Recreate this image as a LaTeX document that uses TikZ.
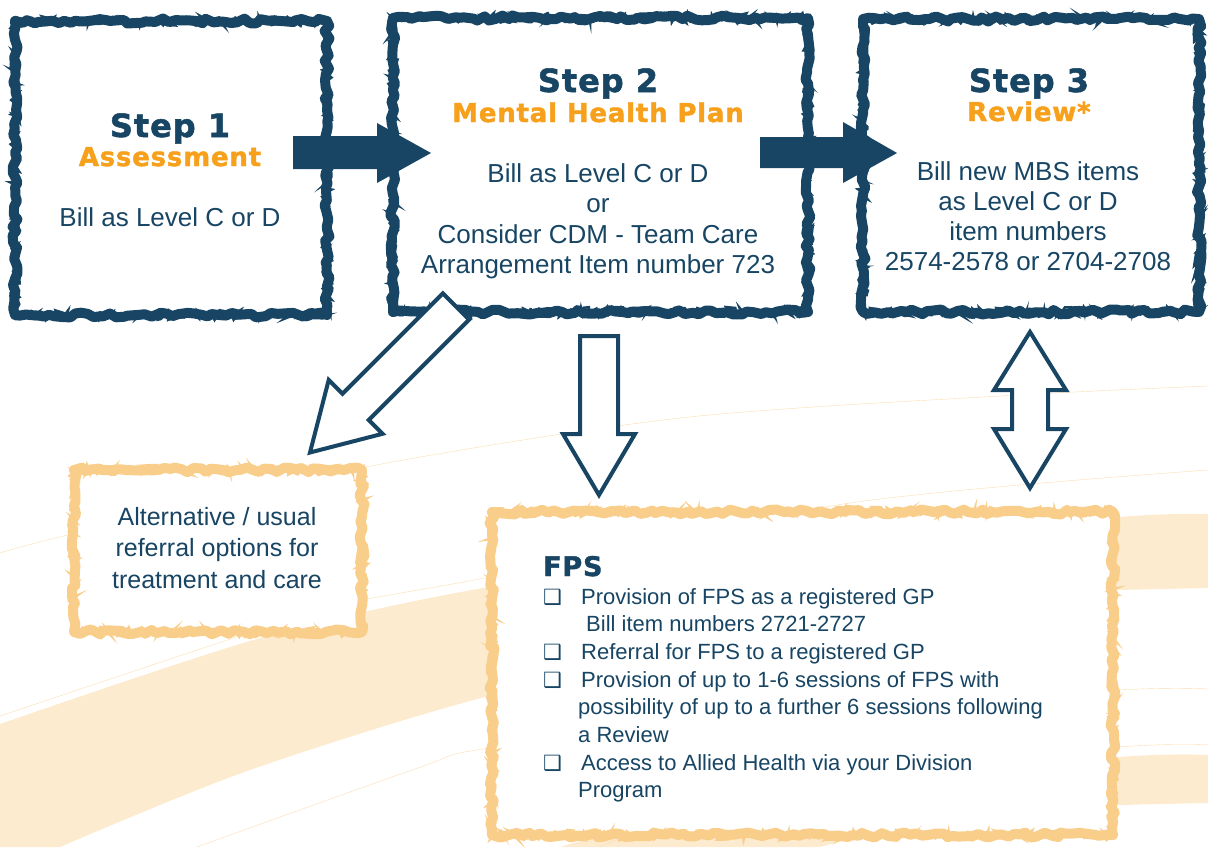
\documentclass[tikz,border=0pt]{standalone}
\usepackage{fontspec}
\setmainfont{Liberation Sans}
\newfontfamily\headfont[LetterSpace=3,BoldFeatures={FakeBold=1.6}]{DejaVu Sans}
\newfontfamily\symfont{DejaVu Sans}
\usetikzlibrary{decorations.pathmorphing}
\definecolor{navy}{HTML}{174563}
\definecolor{gold}{HTML}{F7A01B}
\definecolor{sand}{HTML}{F9CE8B}
\definecolor{peach}{HTML}{FDEBD0}
\definecolor{streak}{HTML}{FBDDB0}
\newcommand{\boxbullet}{\makebox[38pt][l]{\symfont\fontsize{21}{21}\selectfont ❑}}
\tikzset{
  frame/.style={line width=10pt, decorate, decoration={random steps, segment length=6pt, amplitude=2.5pt}, line join=round},
  frayed/.style={line width=2.5pt, decorate, decoration={random steps, segment length=3pt, amplitude=5pt}},
  blockarrow/.style={draw=navy, line width=4pt, fill=white, line join=miter},
  steptitle/.style={navy, font=\headfont\bfseries\fontsize{32}{36}\selectfont, anchor=base},
  stepsub/.style={gold, font=\headfont\bfseries\fontsize{26}{30}\selectfont, anchor=base},
  body/.style={navy, font=\fontsize{26}{30.5}\selectfont, anchor=base},
  listline/.style={navy, font=\fontsize{22}{27.7}\selectfont, anchor=base west, inner sep=0pt},
}
\begin{document}
\begin{tikzpicture}[x=1pt,y=-1pt]
\pgfmathsetseed{7}
\useasboundingbox (0,0) rectangle (1208,847);
\clip (0,0) rectangle (1208,847);
\fill[peach] plot[smooth] coordinates {(0,724) (267,636) (500,585) (800,545) (1118,517) (1208,514)} -- (1208,588) -- plot[smooth] coordinates {(1118,590) (800,630) (500,693) (250,770) (60,847)} -- (0,847) -- cycle;
\fill[peach] plot[smooth] coordinates {(560,847) (800,785) (1118,757) (1208,755)} -- (1208,803) -- plot[smooth] coordinates {(1118,805) (900,830) (820,847)} -- cycle;
\draw[streak] plot[smooth] coordinates {(0,553) (72,534) (360,468) (680,418) (1000,396) (1208,386)};
\draw[streak] plot[smooth] coordinates {(0,716) (267,627) (353,602) (500,575) (850,503) (1208,470)};
\draw[streak] plot[smooth] coordinates {(197,847) (418,768) (490,748) (800,712) (1118,690) (1208,689)};
\draw[streak] plot[smooth] coordinates {(600,847) (800,775) (1118,747) (1208,745)};
\fill[white] (74,470) rectangle (362,632);
\fill[white] (492,512) rectangle (1113,835);
\draw[navy, frame] (15,21) rectangle (327,315);
\draw[navy, frayed] (15,21) rectangle (327,315);
\draw[navy, frame] (393,18) rectangle (808,312);
\draw[navy, frayed] (393,18) rectangle (808,312);
\draw[navy, frame] (863,19) rectangle (1199,312);
\draw[navy, frayed] (863,19) rectangle (1199,312);
\draw[sand, frame] (74,470) rectangle (362,632);
\draw[sand, frayed] (74,470) rectangle (362,632);
\draw[sand, frame] (492,512) rectangle (1113,835);
\draw[sand, frayed] (492,512) rectangle (1113,835);
\fill[navy] (293,136) -- (377,136) -- (377,123) -- (431,153) -- (377,183) -- (377,169) -- (293,169) -- cycle;
\fill[navy] (760,137) -- (843,137) -- (843,122) -- (897,153) -- (843,183) -- (843,168) -- (760,168) -- cycle;
\draw[blockarrow] (442.9,293.4) -- (469.1,319.6) -- (368.7,420.0) -- (382.5,433.8) -- (310,452.5) -- (328.7,380.0) -- (342.5,393.8) -- cycle;
\draw[blockarrow] (580,336) -- (618,336) -- (618,434) -- (635,434) -- (599,495) -- (563,434) -- (580,434) -- cycle;
\draw[blockarrow] (1030,332) -- (1066,390) -- (1048,390) -- (1048,429) -- (1066,429) -- (1030,488) -- (994,429) -- (1012,429) -- (1012,390) -- (994,390) -- cycle;
\node[steptitle] (s1) at (170,137) {Step 1};
\node[stepsub] (s1sub) at (170,166) {Assessment};
\node[body] (s1body) at (170,226) {Bill as Level C or D};
\node[steptitle] (s2) at (598,92) {Step 2};
\node[stepsub] (s2sub) at (598,122) {Mental Health Plan};
\foreach \txt [count=\i] in {Bill as Level C or D, or, Consider CDM - Team Care, Arrangement Item number 723}
  \node[body] (s2body\i) at (598,{182+30.5*(\i-1)}) {\txt};
\node[steptitle] (s3) at (1029,92) {Step 3};
\node[stepsub] (s3sub) at (1029,121) {Review*};
\foreach \txt [count=\i] in {Bill new MBS items, as Level C or D, item numbers, 2574-2578 or 2704-2708}
  \node[body] (s3body\i) at (1028,{180+30*(\i-1)}) {\txt};
\foreach \txt [count=\i] in {Alternative / usual, referral options for, treatment and care}
  \node[body, font=\fontsize{25}{30}\selectfont] (alt\i) at (217,{525+31.5*(\i-1)}) {\txt};
\node[navy, font=\headfont\bfseries\fontsize{27}{30}\selectfont, anchor=base west, inner sep=0pt] (fps) at (543,576) {FPS};
\node[listline] (fps1) at (543,604) {\boxbullet Provision of FPS as a registered GP};
\node[listline] (fps2) at (586,631.7) {Bill item numbers 2721-2727};
\node[listline] (fps3) at (543,659.4) {\boxbullet Referral for FPS to a registered GP};
\node[listline] (fps4) at (543,687.1) {\boxbullet Provision of up to 1-6 sessions of FPS with};
\node[listline] (fps5) at (578,714.8) {possibility of up to a further 6 sessions following};
\node[listline] (fps6) at (578,742.5) {a Review};
\node[listline] (fps7) at (543,770.2) {\boxbullet Access to Allied Health via your Division};
\node[listline] (fps8) at (578,797.9) {Program};
\end{tikzpicture}
\end{document}
